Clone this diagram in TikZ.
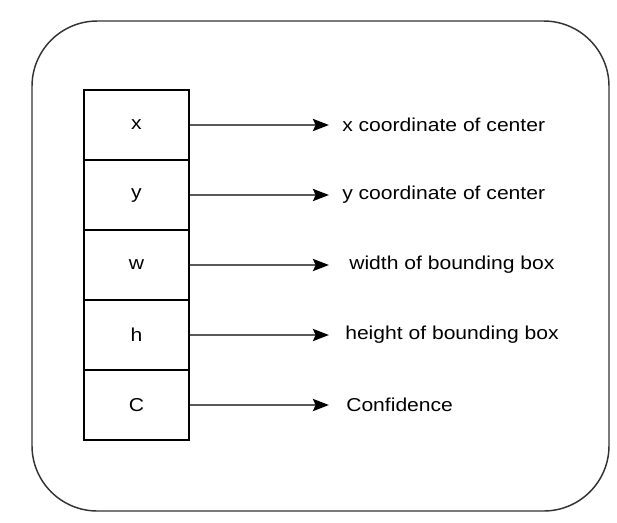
\documentclass[tikz,border=0pt]{standalone}
\usepackage{fontspec}
\setmainfont{Liberation Sans}[FakeStretch=1.13]
\usetikzlibrary{arrows.meta,positioning}

\begin{document}
\begin{tikzpicture}[x=0.75pt, y=-0.75pt, node distance=52.5pt,
  every node/.style={font=\fontsize{14}{16}\selectfont},
  cell/.style={draw, line width=1pt, minimum width=78.75pt, minimum height=52.5pt, inner sep=0pt},
  lbl/.style={anchor=west, inner sep=0pt},
  arr/.style={-{Stealth[length=12pt,width=9pt,inset=2pt,black]}, line width=2pt, draw=black!65}]
  \useasboundingbox (0,0) rectangle (617,522);
  \draw[line width=1.1pt, draw=black!80, rounded corners=49pt] (32,21) rectangle (609,511);

  \node[cell] (x)               at (136.5,125) {x};
  \node[cell] (y) [below of=x]  {y};
  \node[cell] (w) [below of=y]  {w};
  \node[cell] (h) [below of=w]  {h};
  \node[cell] (c) [below of=h]  {C};

  \coordinate (tip) at (329,0);

  \node[lbl] (xl) at (342,125) {x coordinate of center};
  \node[lbl] (yl) at (342,195) {y coordinate of center};
  \node[lbl] (wl) at (349,265) {width of bounding box};
  \node[lbl] (hl) at (345,335) {height of bounding box};
  \node[lbl] (cl) at (346,405) {Confidence};

  \path (x.east) edge[arr] (x.east -| tip)
        (y.east) edge[arr] (y.east -| tip)
        (w.east) edge[arr] (w.east -| tip)
        (h.east) edge[arr] (h.east -| tip)
        (c.east) edge[arr] (c.east -| tip)
        ;
\end{tikzpicture}
\end{document}
